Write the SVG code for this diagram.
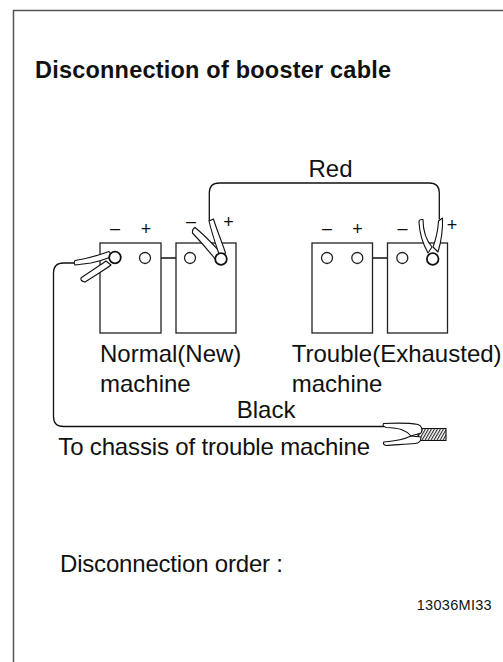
<svg xmlns="http://www.w3.org/2000/svg" width="503" height="662" viewBox="0 0 503 662">
  <style>
    text { font-family: "Liberation Sans", Arial, sans-serif; fill: #111; }
    .lbl { font-size: 24px; }
    .sign { font-size: 18px; text-anchor: middle; }
    .bat { fill: #fff; stroke: #222; stroke-width: 1.3; }
    .term { fill: #fff; stroke: #222; stroke-width: 1.3; }
    .term2 { fill: #fff; stroke: #111; stroke-width: 1.8; }
    .wire { fill: none; stroke: #111; stroke-width: 1.3; }
    .jaw { fill: #fff; stroke: #111; stroke-width: 1.1; stroke-linejoin: round; }
  </style>
  <defs>
    <pattern id="hatch" patternUnits="userSpaceOnUse" width="2.6" height="10" patternTransform="rotate(30)">
      <rect width="2.6" height="10" fill="#fff"/>
      <line x1="0.6" y1="0" x2="0.6" y2="10" stroke="#111" stroke-width="1"/>
    </pattern>
  </defs>
  <rect width="503" height="662" fill="#fff"/>

  <!-- frame -->
  <g id="frame" fill="none" stroke="#555" stroke-width="1.5">
    <path d="M13.5,662 L13.5,10.5 L503,10.5"/>
  </g>

  <g id="title"><text x="35" y="77.5" font-size="23.5" font-weight="bold" textLength="356">Disconnection of booster cable</text></g>

  <!-- connectors -->
  <g id="connectors">
    <path class="wire" d="M150.5,258 L184.5,258"/>
    <path class="wire" d="M362.8,258 L396.8,258"/>
    <path id="red-cable" class="wire" d="M209.3,221 L209.3,193 Q209.3,183 219.3,183 L429.3,183 Q439.3,183 439.3,193 L439.3,219.5"/>
    <path id="black-cable" class="wire" d="M76,263 L63.5,263 Q53.5,263 53.5,273 L53.5,416.5 Q53.5,426.5 63.5,426.5 L384,426.5"/>
  </g>

  <!-- Normal machine batteries -->
  <g id="battery-n1">
    <rect class="bat" x="100" y="243" width="61" height="90"/>
    <text class="sign" x="115" y="234">–</text>
    <text class="sign" x="146" y="235">+</text>
    <circle class="term" cx="145" cy="258" r="5.5"/>
  </g>
  <g id="battery-n2">
    <rect class="bat" x="176" y="243" width="60" height="90"/>
    <text class="sign" x="191" y="227">–</text>
    <text class="sign" x="228.5" y="228">+</text>
    <circle class="term" cx="190" cy="258" r="5.5"/>
  </g>

  <!-- Trouble machine batteries -->
  <g id="battery-t1">
    <rect class="bat" x="312" y="243" width="60.5" height="90"/>
    <text class="sign" x="327" y="234">–</text>
    <text class="sign" x="357.5" y="235">+</text>
    <circle class="term" cx="327" cy="258" r="5.5"/>
    <circle class="term" cx="357.3" cy="258" r="5.5"/>
  </g>
  <g id="battery-t2">
    <rect class="bat" x="387.5" y="243" width="60" height="90"/>
    <text class="sign" x="402.5" y="234">–</text>
    <text class="sign" x="452" y="231">+</text>
    <circle class="term" cx="402.3" cy="258" r="5.5"/>
  </g>

  <!-- clamps -->
  <g id="clamp-neg-normal">
    <path class="jaw" d="M75,260.5 C85,259 98,255.5 109,251.5 L112.5,256.5 C104,259.5 96,262 91,263 L75,265 Q73.5,262.8 75,260.5 Z"/>
    <path class="jaw" d="M81,278 C88,273 96,268 106,261 L111,265 C106,269 99,273 85,282 Q80,281 81,278 Z"/>
    <circle class="term2" cx="115" cy="257.5" r="5.8"/>
  </g>
  <g id="clamp-pos-normal">
    <path class="jaw" d="M195,227.5 C202,233 210,241 220,252 L216,260 C208,250 200,241 192.5,233 Q192,229 195,227.5 Z"/>
    <path class="jaw" d="M209,221 L213.5,219 C216,228 222,242 225.5,253 L220,257 C216,245 212,234 209,221 Z"/>
    <circle class="term2" cx="221" cy="259" r="5.8"/>
  </g>
  <g id="clamp-pos-trouble">
    <path class="jaw" d="M419,222 Q419,219 423,219.5 C423,230 426,240 432,247 L428,253 C423,244 419.5,234 419,222 Z"/>
    <path class="jaw" d="M438.5,221 L442.5,218 C443,230 441,242 438,252 L433,247 C436,239 438,230 438.5,221 Z"/>
    <circle class="term2" cx="432.7" cy="259" r="5.8"/>
  </g>
  <g id="clamp-chassis">
    <path d="M420,428.5 L446,428.5 L446,440.5 L420,440.5 Q416,434.5 420,428.5 Z" fill="url(#hatch)" stroke="#111" stroke-width="1.1"/>
    <path class="jaw" d="M383.5,423.5 C395,423 410,423 418,424.5 C422,426 423,430 421,433 L411,436 C406,430 400,428 386,427.5 Q382,426 383.5,423.5 Z"/>
    <path class="jaw" d="M384,442 C395,441 403,440 411,436 L421,437 C421,441 419,443.5 415,443.5 C405,444 395,445 386,445.5 Q382,444 384,442 Z"/>
  </g>

  <!-- labels -->
  <g id="labels">
    <text class="lbl" x="308.5" y="176.5" font-size="23">Red</text>
    <text class="lbl" x="100" y="362.3">Normal(New)</text>
    <text class="lbl" x="100" y="391.7">machine</text>
    <text class="lbl" x="291.7" y="362.3">Trouble(Exhausted)</text>
    <text class="lbl" x="291.7" y="391.7">machine</text>
    <text class="lbl" x="236.7" y="418.3">Black</text>
    <text class="lbl" x="58.3" y="455" textLength="311.7">To chassis of trouble machine</text>
    <text class="lbl" x="60" y="571.7" textLength="223">Disconnection order :</text>
    <text x="416.7" y="610" font-size="14.5" textLength="75">13036MI33</text>
  </g>
</svg>
